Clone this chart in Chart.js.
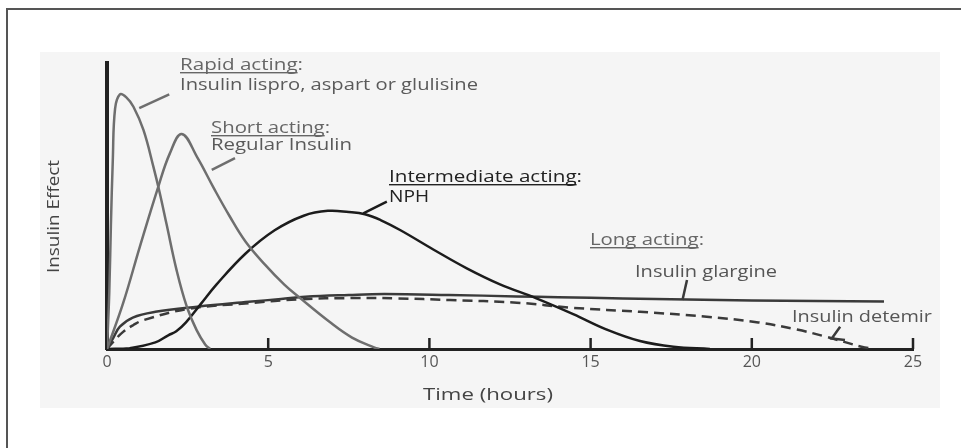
<!DOCTYPE html>
<html>
<head>
<meta charset="utf-8">
<script src="https://cdn.jsdelivr.net/npm/chart.js@4.4.0/dist/chart.umd.min.js"></script>
<style>
  html, body { margin: 0; padding: 0; background: #fff; }
  #wrap { width: 961px; height: 448px; }
</style>
</head>
<body>
<div id="wrap"><canvas id="myChart" width="961" height="448"></canvas></div>
<script>
// values: time in hours, effect on a 0-100 scale
var timeTicks = [0, 5, 10, 15, 20, 25];

var rapidHours  = [0, 0.07, 0.12, 0.18, 0.25, 0.4, 0.6, 0.82, 1.13, 1.44, 1.64, 1.85, 2.16, 2.47, 2.78, 3.05, 3.2];
var rapidEffect = [0, 19.6, 42.8, 66.1, 84, 89, 88, 84.7, 76.6, 63.7, 54.4, 43.5, 27.5, 15, 6.6, 1.5, 0];

var shortHours  = [0, 0.5, 1.02, 1.59, 1.95, 2.32, 2.8, 3.3, 3.8, 4.3, 4.9, 5.5, 6.0, 6.9, 7.6, 8.3, 8.45];
var shortEffect = [0, 16, 35.8, 56.7, 68.4, 75.2, 67, 56.5, 46.5, 37.5, 29.5, 22.5, 17.7, 9.5, 4, 0.5, 0];

var nphHours  = [0, 0.7, 1.5, 1.9, 2.15, 2.45, 2.9, 3.4, 4.3, 5.2, 6.1, 6.85, 7.5, 8.0, 8.5, 9.09, 10.12, 11.16, 12.19, 13.3, 14.46, 15.5, 16.53, 17.57, 18.7];
var nphEffect = [0, 0.3, 2.3, 4.8, 6.2, 9.3, 15.6, 22.6, 33.4, 41.5, 46.6, 48.3, 47.9, 47.1, 45.0, 41.6, 34.8, 28.2, 22.6, 17.8, 12.2, 6.8, 2.8, 0.8, 0];

var glargineHours  = [0, 0.2, 0.4, 0.8, 1.5, 2.8, 4.4, 5.4, 6.15, 7.5, 8.6, 10.6, 12.7, 14, 16, 18, 20, 22, 24.1];
var glargineEffect = [0, 4, 7.8, 11, 13, 14.8, 16.5, 17.5, 18.3, 18.9, 19.2, 18.9, 18.4, 18.1, 17.7, 17.3, 17, 16.8, 16.6];

var detemirHours  = [0, 0.2, 0.5, 0.82, 1.13, 2.5, 4.4, 6, 7.54, 9, 10.64, 12.71, 14.46, 16.53, 18.6, 20.2, 21.4, 22.3, 23.4, 23.8];
var detemirEffect = [0, 2.6, 6, 8.4, 10.1, 14, 16, 17.4, 17.8, 17.7, 17.1, 16.2, 14.4, 13, 11.3, 9.3, 6.8, 4.3, 0.8, 0];

function toPoints(xs, ys) {
  var pts = [];
  for (var i = 0; i < xs.length; i++) {
    pts.push({x: xs[i], y: ys[i]});
  }
  return pts;
}

// text labels (pixel layout) and leader strokes (in chart units)
var labels = [
  {text: 'Rapid acting', colon: true, x: 180, y: 70, w: 123, color: '#666'},
  {text: 'Insulin lispro, aspart or glulisine', x: 180, y: 90, w: 298, color: '#5a5a5a'},
  {text: 'Short acting', colon: true, x: 211, y: 133, w: 119, color: '#666'},
  {text: 'Regular Insulin', x: 211, y: 150, w: 141, color: '#5a5a5a'},
  {text: 'Intermediate acting', colon: true, x: 389, y: 182, w: 193, color: '#222'},
  {text: 'NPH', x: 389, y: 202, w: 40, color: '#222'},
  {text: 'Long acting', colon: true, x: 590, y: 245, w: 114, color: '#666'},
  {text: 'Insulin glargine', x: 635, y: 277, w: 142, color: '#555'},
  {text: 'Insulin detemir', x: 792, y: 322, w: 140, color: '#555'}
];

var leaders = [
  {pts: [[1.0, 84.2], [1.93, 89]], color: '#6e6e6e'},
  {pts: [[3.25, 62.6], [3.97, 66.7]], color: '#6e6e6e'},
  {pts: [[7.95, 47.4], [8.68, 51.5]], color: '#1c1c1c'},
  {pts: [[17.99, 24.1], [17.85, 17.1]], color: '#3a3a3a'},
  {pts: [[22.74, 7.8], [22.48, 3.7], [22.89, 3.15]], color: '#3a3a3a'}
];

function drawText(ctx, l) {
  ctx.save();
  ctx.font = '16px "Open Sans"';
  ctx.fillStyle = l.color;
  ctx.textBaseline = 'alphabetic';
  var full = l.text + (l.colon ? ':' : '');
  var sx = l.w / ctx.measureText(full).width;
  ctx.translate(l.x, l.y);
  ctx.scale(sx, 1);
  ctx.fillText(full, 0, 0);
  if (l.colon) {
    ctx.fillRect(0, 2, ctx.measureText(l.text).width, 1.4);
  }
  ctx.restore();
}

var decorPlugin = {
  id: 'decor',
  beforeDraw: function(chart) {
    var ctx = chart.ctx;
    ctx.save();
    ctx.fillStyle = '#ffffff';
    ctx.fillRect(0, 0, chart.width, chart.height);
    ctx.fillStyle = '#f5f5f5';
    ctx.fillRect(40, 52, 900, 356);
    ctx.strokeStyle = '#555';
    ctx.lineWidth = 2;
    ctx.beginPath();
    ctx.moveTo(7, chart.height);
    ctx.lineTo(7, 9);
    ctx.lineTo(chart.width, 9);
    ctx.stroke();
    ctx.restore();
  },
  afterDraw: function(chart) {
    var ctx = chart.ctx;
    var xs = chart.scales.x, ys = chart.scales.y;
    ctx.save();

    // inward tick marks
    ctx.strokeStyle = '#222';
    ctx.lineWidth = 2.5;
    timeTicks.forEach(function(t) {
      if (t === 0) return;
      var px = xs.getPixelForValue(t);
      ctx.beginPath();
      ctx.moveTo(px, ys.bottom);
      ctx.lineTo(px, ys.bottom - 11);
      ctx.stroke();
    });

    // leader lines
    ctx.lineWidth = 2.5;
    leaders.forEach(function(ld) {
      ctx.strokeStyle = ld.color;
      ctx.beginPath();
      ld.pts.forEach(function(p, i) {
        var px = xs.getPixelForValue(p[0]), py = ys.getPixelForValue(p[1]);
        if (i === 0) ctx.moveTo(px, py); else ctx.lineTo(px, py);
      });
      ctx.stroke();
    });

    labels.forEach(function(l) { drawText(ctx, l); });

    // axis titles
    ctx.fillStyle = '#444';
    ctx.font = '17px "Open Sans"';
    ctx.textAlign = 'center';
    ctx.textBaseline = 'alphabetic';
    var t1 = 'Time (hours)';
    ctx.save();
    ctx.translate(488, 400);
    ctx.scale(130 / ctx.measureText(t1).width, 1);
    ctx.fillText(t1, 0, 0);
    ctx.restore();

    var t2 = 'Insulin Effect';
    ctx.save();
    ctx.translate(59, 216.5);
    ctx.rotate(-Math.PI / 2);
    ctx.scale(113 / ctx.measureText(t2).width, 1);
    ctx.fillText(t2, 0, 0);
    ctx.restore();

    ctx.restore();
  }
};

var lineBase = {
  pointRadius: 0,
  borderWidth: 2.5,
  fill: false,
  tension: 0.4
};

var myChart = new Chart(document.getElementById('myChart').getContext('2d'), {
  type: 'line',
  data: {
    datasets: [
      Object.assign({label: 'Rapid acting', data: toPoints(rapidHours, rapidEffect), borderColor: '#6e6e6e'}, lineBase),
      Object.assign({label: 'Short acting', data: toPoints(shortHours, shortEffect), borderColor: '#6e6e6e'}, lineBase),
      Object.assign({label: 'Intermediate acting', data: toPoints(nphHours, nphEffect), borderColor: '#1c1c1c'}, lineBase),
      Object.assign({label: 'Insulin glargine', data: toPoints(glargineHours, glargineEffect), borderColor: '#3a3a3a'}, lineBase),
      Object.assign({label: 'Insulin detemir', data: toPoints(detemirHours, detemirEffect), borderColor: '#3a3a3a', borderDash: [10, 6]}, lineBase)
    ]
  },
  options: {
    responsive: false,
    animation: false,
    devicePixelRatio: 1,
    layout: {padding: {left: 97, right: 48, top: 63, bottom: 0}},
    plugins: {
      legend: {display: false},
      tooltip: {enabled: false}
    },
    scales: {
      x: {
        type: 'linear',
        min: 0,
        max: 25,
        afterBuildTicks: function(scale) {
          scale.ticks = timeTicks.map(function(v) { return {value: v}; });
        },
        afterFit: function(scale) { scale.height = 99; },
        grid: {display: false, drawTicks: false},
        border: {display: true, color: '#222', width: 3},
        ticks: {
          color: '#555',
          padding: 4,
          maxRotation: 0,
          font: {family: 'Open Sans', size: 16}
        }
      },
      y: {
        min: 0,
        max: 100,
        afterFit: function(scale) { scale.width = 10; },
        grid: {display: false, drawTicks: false},
        border: {display: true, color: '#222', width: 4},
        ticks: {display: false}
      }
    }
  },
  plugins: [decorPlugin]
});
</script>
</body>
</html>
